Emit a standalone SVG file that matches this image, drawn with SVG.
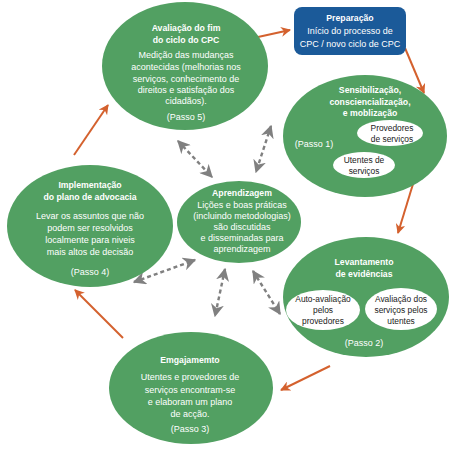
<svg xmlns="http://www.w3.org/2000/svg" width="455" height="451" viewBox="0 0 455 451">
<defs>
<style>
.g{fill:#52a062}
.w{fill:#ffffff}
.t{font-family:"Liberation Sans",Arial,sans-serif;font-size:9px;fill:#ffffff;text-anchor:middle}
.b{font-weight:bold;font-size:8.7px}
.k{fill:#1a1a1a;font-size:8.4px}
.o{stroke:#d4612e;stroke-width:2;fill:none}
.d{stroke:#808080;stroke-width:2.4;stroke-dasharray:4 3;fill:none}
</style>
<marker id="ao" viewBox="0 0 10 10" refX="9" refY="5" markerWidth="5" markerHeight="5" orient="auto-start-reverse" markerUnits="strokeWidth">
<path d="M0,0 L10,5 L0,10 L3,5 Z" fill="#d4612e"/>
</marker>
<marker id="ag" viewBox="0 0 10 10" refX="9" refY="5" markerWidth="5.5" markerHeight="5.5" orient="auto-start-reverse" markerUnits="strokeWidth">
<path d="M0,0 L10,5 L0,10 L3,5 Z" fill="#808080"/>
</marker>
</defs>

<g id="connectors">
<line class="o" x1="258" y1="37" x2="290" y2="30" marker-end="url(#ao)"/>
<line class="o" x1="405" y1="48" x2="424" y2="93" marker-end="url(#ao)"/>
<line class="o" x1="413" y1="184" x2="398" y2="233" marker-end="url(#ao)"/>
<line class="o" x1="330" y1="366" x2="281" y2="390" marker-end="url(#ao)"/>
<line class="o" x1="123" y1="338" x2="75" y2="290" marker-end="url(#ao)"/>
<line class="o" x1="74" y1="155" x2="108" y2="105" marker-end="url(#ao)"/>
<line class="d" x1="178" y1="141" x2="212" y2="177" marker-start="url(#ag)" marker-end="url(#ag)"/>
<line class="d" x1="271" y1="126" x2="256" y2="172" marker-start="url(#ag)" marker-end="url(#ag)"/>
<line class="d" x1="134" y1="282" x2="195" y2="260" marker-start="url(#ag)" marker-end="url(#ag)"/>
<line class="d" x1="225" y1="269" x2="215" y2="316" marker-start="url(#ag)" marker-end="url(#ag)"/>
<line class="d" x1="253" y1="271" x2="280" y2="314" marker-start="url(#ag)" marker-end="url(#ag)"/>
</g>

<g id="avaliacao">
<ellipse class="g" cx="185" cy="66" rx="83" ry="64"/>
<text class="t b" x="186" y="31">Avaliação do fim</text>
<text class="t b" x="186" y="43">do ciclo do CPC</text>
<text class="t" x="186" y="58">Medição das mudanças</text>
<text class="t" x="186" y="70">acontecidas (melhorias nos</text>
<text class="t" x="186" y="82">serviços, conhecimento de</text>
<text class="t" x="186" y="93">direitos e satisfação dos</text>
<text class="t" x="186" y="104">cidadãos).</text>
<text class="t" x="186" y="120">(Passo 5)</text>
</g>

<g id="preparacao">
<rect x="294" y="7" width="112" height="48" rx="8" fill="#1b5a99"/>
<text class="t b" x="350" y="21">Preparação</text>
<text class="t" x="350" y="34">Início do processo de</text>
<text class="t" x="350" y="47">CPC / novo ciclo de CPC</text>
</g>

<g id="sensibilizacao">
<ellipse class="g" cx="365" cy="136" rx="82" ry="61"/>
<text class="t b" x="370" y="93">Sensibilização,</text>
<text class="t b" x="370" y="105">consciencialização,</text>
<text class="t b" x="370" y="116">e moblização</text>
<text class="t" x="314" y="147">(Passo 1)</text>
<ellipse class="w" cx="390" cy="133" rx="33" ry="13"/>
<text class="t k" x="392" y="131">Provedores</text>
<text class="t k" x="392" y="142">de serviços</text>
<ellipse class="w" cx="364" cy="165" rx="31" ry="13"/>
<text class="t k" x="364" y="163">Utentes de</text>
<text class="t k" x="364" y="174">serviços</text>
</g>

<g id="levantamento">
<ellipse class="g" cx="366" cy="297" rx="83" ry="60"/>
<text class="t b" x="364" y="265">Levantamento</text>
<text class="t b" x="364" y="277">de evidências</text>
<ellipse class="w" cx="323" cy="310" rx="37" ry="20"/>
<text class="t k" x="323" y="302">Auto-avaliação</text>
<text class="t k" x="323" y="313">pelos</text>
<text class="t k" x="323" y="324">provedores</text>
<ellipse class="w" cx="401" cy="309" rx="36" ry="21"/>
<text class="t k" x="401" y="302">Avaliação dos</text>
<text class="t k" x="401" y="313">serviços pelos</text>
<text class="t k" x="401" y="324">utentes</text>
<text class="t" x="364" y="346">(Passo 2)</text>
</g>

<g id="emgajamento">
<ellipse class="g" cx="191" cy="388" rx="82" ry="56"/>
<text class="t b" x="190" y="363">Emgajamemto</text>
<text class="t" x="190" y="380">Utentes e provedores de</text>
<text class="t" x="190" y="393">serviços encontram-se</text>
<text class="t" x="190" y="405">e elaboram um plano</text>
<text class="t" x="190" y="417">de acção.</text>
<text class="t" x="190" y="432">(Passo 3)</text>
</g>

<g id="implementacao">
<ellipse class="g" cx="90" cy="226" rx="83" ry="61"/>
<text class="t b" x="90" y="188">Implementação</text>
<text class="t b" x="90" y="200">do plano de advocacia</text>
<text class="t" x="90" y="219">Levar os assuntos que não</text>
<text class="t" x="90" y="231">podem ser resolvidos</text>
<text class="t" x="90" y="243">localmente para niveis</text>
<text class="t" x="90" y="255">mais altos de decisão</text>
<text class="t" x="90" y="275">(Passo 4)</text>
</g>

<g id="aprendizagem">
<ellipse class="g" cx="239" cy="222" rx="62" ry="41"/>
<text class="t b" x="242" y="196">Aprendizagem</text>
<text class="t" x="242" y="208">Lições e boas práticas</text>
<text class="t" x="242" y="219">(incluindo metodologias)</text>
<text class="t" x="242" y="230">são discutidas</text>
<text class="t" x="242" y="241">e disseminadas para</text>
<text class="t" x="242" y="252">aprendizagem</text>
</g>
</svg>
